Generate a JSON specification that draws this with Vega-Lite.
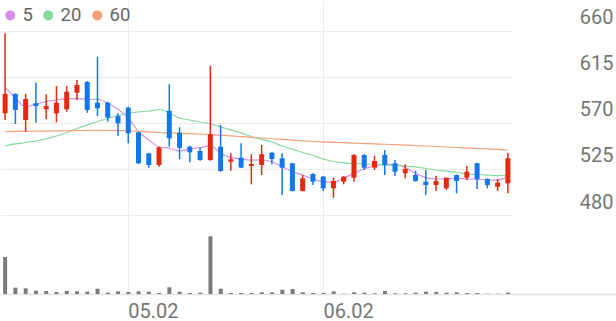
{
  "$schema": "https://vega.github.io/schema/vega-lite/v6.json",
  "padding": 0,
  "autosize": {"type": "pad"},
  "background": "white",
  "spacing": 0,
  "config": {"view": {"stroke": null}, "font": "Roboto"},
  "data": {"values": [
    {"d":"04.15","o":579.5,"h":657.7,"l":572.9,"c":598.4,"v":370000,"m5":604.9,"m20":547.5,"m60":561.5},
    {"d":"04.16","o":598.4,"h":599.0,"l":569.0,"c":582.7,"v":63000,"m5":594.5,"m20":549.5,"m60":561.7},
    {"d":"04.17","o":572.9,"h":598.4,"l":561.5,"c":593.5,"v":57000,"m5":585.7,"m20":550.9,"m60":561.8},
    {"d":"04.18","o":589.3,"h":609.4,"l":570.3,"c":586.6,"v":33000,"m5":588.6,"m20":552.4,"m60":562.0},
    {"d":"04.21","o":583.4,"h":598.0,"l":573.9,"c":586.6,"v":30000,"m5":590.8,"m20":554.3,"m60":562.1},
    {"d":"04.22","o":579.5,"h":606.2,"l":570.7,"c":589.9,"v":20000,"m5":592.5,"m20":557.3,"m60":562.2},
    {"d":"04.23","o":583.4,"h":606.2,"l":581.0,"c":600.6,"v":30000,"m5":593.8,"m20":560.7,"m60":562.4},
    {"d":"04.24","o":599.6,"h":612.1,"l":592.5,"c":607.2,"v":27000,"m5":593.8,"m20":564.6,"m60":562.6},
    {"d":"04.25","o":610.1,"h":611.1,"l":580.1,"c":582.7,"v":23000,"m5":593.2,"m20":568.0,"m60":562.8},
    {"d":"04.28","o":589.9,"h":634.9,"l":576.8,"c":584.4,"v":53000,"m5":593.2,"m20":571.5,"m60":562.9},
    {"d":"04.29","o":589.9,"h":590.8,"l":571.3,"c":575.2,"v":13000,"m5":589.3,"m20":574.4,"m60":562.8},
    {"d":"04.30","o":576.8,"h":579.5,"l":557.3,"c":569.7,"v":27000,"m5":583.4,"m20":577.3,"m60":562.6},
    {"d":"05.02","o":585.0,"h":586.0,"l":550.1,"c":559.9,"v":20000,"m5":574.9,"m20":579.5,"m60":562.4},
    {"d":"05.07","o":560.9,"h":561.5,"l":529.9,"c":530.6,"v":27000,"m5":561.5,"m20":580.8,"m60":561.9},
    {"d":"05.08","o":540.3,"h":541.0,"l":526.3,"c":528.9,"v":23000,"m5":553.4,"m20":581.7,"m60":561.3},
    {"d":"05.09","o":528.9,"h":546.8,"l":527.2,"c":546.2,"v":10000,"m5":546.8,"m20":583.2,"m60":560.7},
    {"d":"05.12","o":582.0,"h":607.9,"l":546.8,"c":555.0,"v":67000,"m5":545.3,"m20":579.8,"m60":560.3},
    {"d":"05.13","o":560.5,"h":565.8,"l":534.5,"c":545.8,"v":23000,"m5":542.6,"m20":574.9,"m60":559.9},
    {"d":"05.14","o":546.8,"h":547.5,"l":531.6,"c":541.3,"v":10000,"m5":544.6,"m20":572.9,"m60":559.5},
    {"d":"05.15","o":542.6,"h":546.2,"l":533.0,"c":533.8,"v":13000,"m5":545.8,"m20":571.0,"m60":559.1},
    {"d":"05.16","o":533.8,"h":626.0,"l":533.0,"c":558.9,"v":577000,"m5":547.8,"m20":569.0,"m60":558.7},
    {"d":"05.19","o":546.8,"h":568.0,"l":522.4,"c":523.0,"v":53000,"m5":540.4,"m20":566.1,"m60":558.1},
    {"d":"05.20","o":532.1,"h":540.3,"l":523.3,"c":534.5,"v":10000,"m5":536.1,"m20":563.2,"m60":557.4},
    {"d":"05.21","o":536.1,"h":550.1,"l":526.0,"c":526.3,"v":10000,"m5":534.8,"m20":560.3,"m60":556.7},
    {"d":"05.22","o":527.9,"h":539.4,"l":510.0,"c":529.9,"v":10000,"m5":533.8,"m20":556.8,"m60":556.0},
    {"d":"05.23","o":528.9,"h":548.5,"l":519.1,"c":539.4,"v":17000,"m5":533.8,"m20":553.9,"m60":555.3},
    {"d":"05.26","o":541.0,"h":541.5,"l":529.6,"c":534.8,"v":17000,"m5":532.1,"m20":551.4,"m60":554.6},
    {"d":"05.27","o":535.5,"h":540.3,"l":499.6,"c":526.3,"v":43000,"m5":527.2,"m20":547.5,"m60":554.0},
    {"d":"05.28","o":530.6,"h":531.0,"l":503.0,"c":503.5,"v":50000,"m5":522.4,"m20":544.5,"m60":553.3},
    {"d":"05.29","o":503.5,"h":519.1,"l":503.0,"c":515.9,"v":17000,"m5":519.1,"m20":541.1,"m60":552.6},
    {"d":"05.30","o":520.1,"h":520.8,"l":509.3,"c":512.6,"v":10000,"m5":515.2,"m20":538.2,"m60":551.9},
    {"d":"06.02","o":517.5,"h":518.2,"l":503.5,"c":506.1,"v":10000,"m5":512.6,"m20":534.8,"m60":551.5},
    {"d":"06.04","o":506.1,"h":516.5,"l":496.9,"c":513.3,"v":27000,"m5":512.0,"m20":532.3,"m60":551.1},
    {"d":"06.05","o":512.6,"h":518.0,"l":510.0,"c":517.5,"v":3000,"m5":515.9,"m20":530.9,"m60":550.7},
    {"d":"06.09","o":516.5,"h":539.4,"l":512.6,"c":538.7,"v":17000,"m5":520.8,"m20":530.4,"m60":550.3},
    {"d":"06.10","o":538.7,"h":539.4,"l":524.0,"c":526.3,"v":13000,"m5":525.0,"m20":529.9,"m60":549.9},
    {"d":"06.11","o":526.3,"h":538.0,"l":524.0,"c":532.8,"v":7000,"m5":528.2,"m20":529.4,"m60":549.5},
    {"d":"06.12","o":538.7,"h":543.6,"l":519.1,"c":528.9,"v":30000,"m5":529.6,"m20":528.9,"m60":549.2},
    {"d":"06.13","o":530.6,"h":533.8,"l":518.4,"c":522.4,"v":7000,"m5":529.6,"m20":528.4,"m60":548.8},
    {"d":"06.16","o":520.8,"h":529.6,"l":515.9,"c":525.0,"v":7000,"m5":526.3,"m20":527.9,"m60":548.4},
    {"d":"06.17","o":519.1,"h":523.3,"l":512.6,"c":513.3,"v":13000,"m5":520.8,"m20":527.0,"m60":548.0},
    {"d":"06.18","o":512.6,"h":524.0,"l":499.6,"c":509.3,"v":23000,"m5":516.5,"m20":525.5,"m60":547.5},
    {"d":"06.19","o":509.3,"h":518.4,"l":503.5,"c":513.3,"v":20000,"m5":515.2,"m20":524.0,"m60":547.0},
    {"d":"06.20","o":506.1,"h":516.5,"l":504.5,"c":516.5,"v":13000,"m5":515.2,"m20":523.0,"m60":546.5},
    {"d":"06.23","o":519.1,"h":519.6,"l":501.2,"c":513.3,"v":17000,"m5":515.9,"m20":521.6,"m60":546.0},
    {"d":"06.24","o":516.5,"h":527.9,"l":514.2,"c":522.4,"v":10000,"m5":515.2,"m20":520.1,"m60":545.5},
    {"d":"06.25","o":530.6,"h":531.0,"l":505.4,"c":514.9,"v":10000,"m5":515.2,"m20":519.6,"m60":545.0},
    {"d":"06.26","o":515.2,"h":515.9,"l":506.1,"c":509.3,"v":3000,"m5":514.2,"m20":519.1,"m60":544.6},
    {"d":"06.27","o":507.7,"h":515.2,"l":503.5,"c":511.6,"v":3000,"m5":514.2,"m20":518.6,"m60":544.1},
    {"d":"06.30","o":511.0,"h":541.0,"l":501.2,"c":535.5,"v":13000,"m5":517.5,"m20":519.1,"m60":543.6}
  ]},
  "vconcat": [
    {
      "width": 513,
      "height": 215,
      "encoding": {
        "x": {
          "field": "d", "type": "ordinal",
          "scale": {"paddingInner": 0, "paddingOuter": 0},
          "axis": {"values": ["05.02", "06.02"], "bandPosition": 0.5, "grid": true, "gridColor": "#ececec", "labels": false, "ticks": false, "tickSize": 0, "domain": false, "title": null}
        }
      },
      "layer": [
        {
          "transform": [{"fold": ["m5", "m20", "m60"], "as": ["ma", "val"]}],
          "mark": {"type": "line", "strokeWidth": 1.2, "interpolate": "monotone"},
          "encoding": {
            "y": {
              "field": "val", "type": "quantitative",
              "scale": {"domain": [480, 690.3], "nice": false, "zero": false},
              "axis": {"orient": "right", "values": [480, 525, 570, 615, 660], "grid": true, "gridColor": "#ececec", "domain": false, "ticks": false, "tickSize": 0, "labelAlign": "right", "labelBaseline": "alphabetic", "labelPadding": 100, "labelOffset": -7, "labelFontSize": 20, "labelColor": "#757575", "labelFont": "Roboto", "title": null}
            },
            "color": {
              "field": "ma", "type": "nominal",
              "scale": {"domain": ["m5", "m20", "m60"], "range": ["#d68ee6", "#86d99a", "#f6a07a"]},
              "legend": {
                "orient": "none", "legendX": 1, "legendY": 6, "direction": "horizontal", "title": null,
                "symbolType": "circle", "symbolSize": 100, "symbolStrokeWidth": 0,
                "labelFontSize": 18.5, "labelColor": "#666666", "labelFont": "Roboto", "labelOffset": 3,
                "columnPadding": 6, "padding": 0,
                "labelExpr": "datum.label == 'm5' ? '5' : (datum.label == 'm20' ? '20' : '60')",
                "encode": {"symbols": {"update": {"fill": {"scale": "color", "field": "value"}, "opacity": {"value": 1}}}}
              }
            }
          }
        },
        {
          "mark": {"type": "rule", "strokeWidth": 1.5},
          "encoding": {
            "y": {"field": "l", "type": "quantitative", "scale": {"domain": [480, 690.3], "nice": false, "zero": false}, "axis": {"orient": "right", "values": [480, 525, 570, 615, 660], "grid": true, "gridColor": "#ececec", "domain": false, "ticks": false, "tickSize": 0, "labelAlign": "right", "labelBaseline": "alphabetic", "labelPadding": 100, "labelOffset": -7, "labelFontSize": 20, "labelColor": "#757575", "labelFont": "Roboto", "title": null}},
            "y2": {"field": "h"},
            "color": {"condition": {"test": "datum.c >= datum.o", "value": "#e3290f"}, "value": "#1276ee"}
          }
        },
        {
          "mark": {"type": "bar", "width": 5},
          "encoding": {
            "y": {"field": "o", "type": "quantitative", "scale": {"domain": [480, 690.3], "nice": false, "zero": false}, "axis": {"orient": "right", "values": [480, 525, 570, 615, 660], "grid": true, "gridColor": "#ececec", "domain": false, "ticks": false, "tickSize": 0, "labelAlign": "right", "labelBaseline": "alphabetic", "labelPadding": 100, "labelOffset": -7, "labelFontSize": 20, "labelColor": "#757575", "labelFont": "Roboto", "title": null}},
            "y2": {"field": "c"},
            "color": {"condition": {"test": "datum.c >= datum.o", "value": "#e3290f"}, "value": "#1276ee"}
          }
        }
      ]
    },
    {
      "width": 616,
      "height": 79,
      "mark": {"type": "bar", "width": 4, "color": "#7b7b7b"},
      "encoding": {
        "x": {
          "field": "d", "type": "ordinal",
          "scale": {"paddingInner": 0, "paddingOuter": 0, "domain": ["04.15","04.16","04.17","04.18","04.21","04.22","04.23","04.24","04.25","04.28","04.29","04.30","05.02","05.07","05.08","05.09","05.12","05.13","05.14","05.15","05.16","05.19","05.20","05.21","05.22","05.23","05.26","05.27","05.28","05.29","05.30","06.02","06.04","06.05","06.09","06.10","06.11","06.12","06.13","06.16","06.17","06.18","06.19","06.20","06.23","06.24","06.25","06.26","06.27","06.30","07.01","07.02","07.03","07.04","07.07","07.08","07.09","07.10","07.11","07.14"]},
          "axis": {"values": ["05.02", "06.02"], "bandPosition": 0.5, "grid": true, "gridColor": "#ececec", "ticks": false, "tickSize": 0, "domain": true, "domainColor": "#e3e3e3", "domainWidth": 1.5, "labelAlign": "left", "labelBaseline": "top", "labelPadding": 7, "labelAngle": 0, "labelFlush": false, "labelFontSize": 20, "labelColor": "#757575", "labelFont": "Roboto", "title": null}
        },
        "y": {"field": "v", "type": "quantitative", "scale": {"domain": [0, 790000], "nice": false}, "axis": null}
      }
    }
  ],
  "resolve": {"scale": {"x": "independent", "y": "independent"}}
}
